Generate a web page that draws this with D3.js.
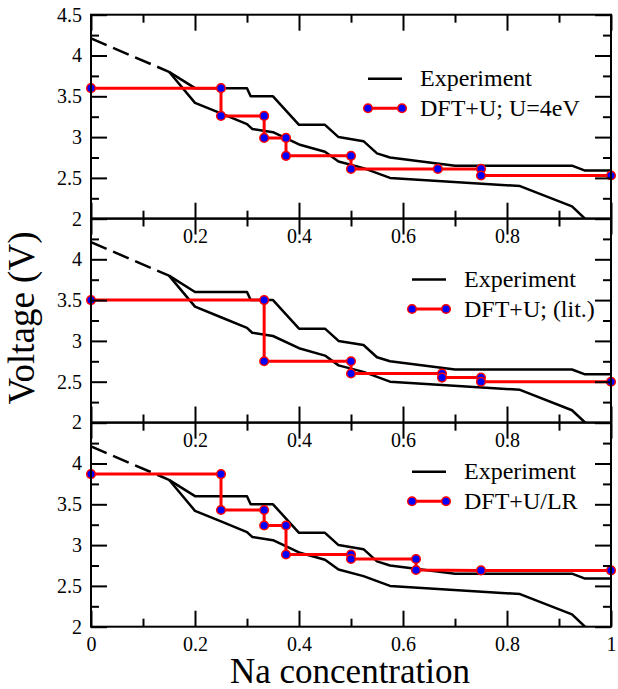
<!DOCTYPE html>
<html>
<head>
<meta charset="utf-8">
<script src="https://cdn.jsdelivr.net/npm/d3@7"></script>
</head>
<body style="margin:0">
<svg id="chart" width="618" height="689"></svg>
<script>
// experiment (same in all three panels)
const expDashX = [0, 0.15];
const expDashV = [4.21, 3.8];
const expUpperX = [0.15, 0.2, 0.3, 0.307, 0.35, 0.4, 0.45, 0.476, 0.524, 0.55, 0.575, 0.7, 0.925, 0.95, 1.0];
const expUpperV = [3.8, 3.6, 3.6, 3.5, 3.5, 3.15, 3.15, 3.0, 2.95, 2.8, 2.75, 2.65, 2.65, 2.59, 2.59];
const expLowerX = [0.15, 0.2, 0.25, 0.3, 0.31, 0.35, 0.4, 0.45, 0.476, 0.524, 0.575, 0.825, 0.925, 0.95, 0.97];
const expLowerV = [3.8, 3.42, 3.29, 3.16, 3.1, 3.06, 2.91, 2.82, 2.7, 2.62, 2.5, 2.4, 2.15, 2.0, 1.88];

// computed voltage steps
const u4X = [0, 0.25, 0.25, 0.333, 0.333, 0.375, 0.375, 0.5, 0.5, 0.667, 0.75, 0.75, 1.0];
const u4V = [3.6, 3.6, 3.26, 3.26, 2.99, 2.99, 2.77, 2.77, 2.61, 2.61, 2.61, 2.53, 2.53];
const litX = [0, 0.333, 0.333, 0.5, 0.5, 0.675, 0.675, 0.75, 0.75, 1.0];
const litV = [3.5, 3.5, 2.75, 2.75, 2.6, 2.6, 2.55, 2.55, 2.5, 2.5];
const lrX = [0, 0.25, 0.25, 0.333, 0.333, 0.375, 0.375, 0.5, 0.5, 0.625, 0.625, 0.75, 1.0];
const lrV = [3.87, 3.87, 3.43, 3.43, 3.24, 3.24, 2.885, 2.885, 2.83, 2.83, 2.695, 2.69, 2.69];

const seriesNames = ["DFT+U; U=4eV", "DFT+U; (lit.)", "DFT+U/LR"];
const expName = "Experiment";

const xMajorTicks = [0, 0.2, 0.4, 0.6, 0.8, 1];
const xMinorTicks = [0.1, 0.3, 0.5, 0.7, 0.9];
const yMajorTicks = [2, 2.5, 3, 3.5, 4, 4.5];
const yMinorTicks = [2.25, 2.75, 3.25, 3.75, 4.25];

const serif = "Liberation Serif";

const svg = d3.select("#chart");

const left = 91, right = 611;
const panelH = 204;
const panelTops = [14.7, 218.5, 422.7];

const x = d3.scaleLinear().domain([0, 1]).range([left, right]);

const panels = [
  {xs: u4X, vs: u4V, name: seriesNames[0], legX: 368, legY: 64, xLabels: false, topLabel: true},
  {xs: litX, vs: litV, name: seriesNames[1], legX: 412, legY: 61, xLabels: false, topLabel: false},
  {xs: lrX, vs: lrV, name: seriesNames[2], legX: 412, legY: 49, xLabels: true, topLabel: false}
];

const pts = (xs, vs) => xs.map((d, i) => [d, vs[i]]);

panels.forEach((p, k) => {
  const top = panelTops[k];
  const y = d3.scaleLinear().domain([2, 4.5]).range([top + panelH, top]);
  const g = svg.append("g");

  g.append("clipPath").attr("id", "clip" + k)
    .append("rect").attr("x", left).attr("y", top).attr("width", right - left).attr("height", panelH);

  const line = d3.line().x(d => x(d[0])).y(d => y(d[1]));
  const plot = g.append("g").attr("clip-path", "url(#clip" + k + ")");

  plot.append("path").attr("d", line(pts(expDashX, expDashV)))
    .attr("fill", "none").attr("stroke", "#000").attr("stroke-width", 2.5)
    .attr("stroke-dasharray", "17,7");
  [[expUpperX, expUpperV], [expLowerX, expLowerV]].forEach(([xs, vs]) => {
    plot.append("path").attr("d", line(pts(xs, vs)))
      .attr("fill", "none").attr("stroke", "#000").attr("stroke-width", 2.5)
      .attr("stroke-linejoin", "round");
  });

  const data = pts(p.xs, p.vs);
  g.append("path").attr("d", line(data))
    .attr("fill", "none").attr("stroke", "#ff0000").attr("stroke-width", 3);
  g.selectAll(".dot").data(data).join("circle")
    .attr("cx", d => x(d[0])).attr("cy", d => y(d[1])).attr("r", 4.3)
    .attr("fill", "#0000ff").attr("stroke", "#ff0000").attr("stroke-width", 1.5);

  // axes, ticks pointing inward
  const fmtX = d => (p.xLabels || (d > 0 && d < 1)) ? d3.format("")(d) : "";
  const fmtY = d => (p.topLabel || d < 4.5) ? d3.format("")(d) : "";

  const axes = [
    g.append("g").attr("transform", `translate(0,${top + panelH})`)
      .call(d3.axisBottom(x).tickValues(xMajorTicks).tickSize(-16).tickPadding(10).tickFormat(fmtX)),
    g.append("g").attr("transform", `translate(0,${top + panelH})`)
      .call(d3.axisBottom(x).tickValues(xMinorTicks).tickSize(-8).tickFormat("")),
    g.append("g").attr("transform", `translate(0,${top})`)
      .call(d3.axisTop(x).tickValues(xMajorTicks).tickSize(-16).tickFormat("")),
    g.append("g").attr("transform", `translate(0,${top})`)
      .call(d3.axisTop(x).tickValues(xMinorTicks).tickSize(-8).tickFormat("")),
    g.append("g").attr("transform", `translate(${left},0)`)
      .call(d3.axisLeft(y).tickValues(yMajorTicks).tickSize(-16).tickPadding(9).tickFormat(fmtY)),
    g.append("g").attr("transform", `translate(${left},0)`)
      .call(d3.axisLeft(y).tickValues(yMinorTicks).tickSize(-8).tickFormat("")),
    g.append("g").attr("transform", `translate(${right},0)`)
      .call(d3.axisRight(y).tickValues(yMajorTicks).tickSize(-16).tickFormat("")),
    g.append("g").attr("transform", `translate(${right},0)`)
      .call(d3.axisRight(y).tickValues(yMinorTicks).tickSize(-8).tickFormat(""))
  ];
  axes.forEach(a => {
    a.attr("font-family", serif).attr("font-size", 20);
    a.select(".domain").remove();
    a.selectAll("line").attr("stroke", "#000").attr("stroke-width", 2);
    a.selectAll("text").attr("fill", "#000");
  });

  g.append("rect").attr("x", left).attr("y", top).attr("width", right - left).attr("height", panelH)
    .attr("fill", "none").attr("stroke", "#000").attr("stroke-width", 2);

  // legend
  const ly1 = top + p.legY, ly2 = ly1 + 29.5;
  const lg = g.append("g").attr("font-family", serif).attr("font-size", 24);
  lg.append("line").attr("x1", p.legX).attr("x2", p.legX + 34).attr("y1", ly1).attr("y2", ly1)
    .attr("stroke", "#000").attr("stroke-width", 2.5);
  lg.append("text").attr("x", p.legX + 52).attr("y", ly1 + 7.5).text(expName);
  lg.append("line").attr("x1", p.legX).attr("x2", p.legX + 34).attr("y1", ly2).attr("y2", ly2)
    .attr("stroke", "#ff0000").attr("stroke-width", 3);
  [p.legX, p.legX + 34].forEach(cx => {
    lg.append("circle").attr("cx", cx).attr("cy", ly2).attr("r", 4.3)
      .attr("fill", "#0000ff").attr("stroke", "#ff0000").attr("stroke-width", 1.5);
  });
  lg.append("text").attr("x", p.legX + 52).attr("y", ly2 + 7.5).text(p.name);
});

svg.append("text")
  .attr("transform", "translate(34,318) rotate(-90)")
  .attr("text-anchor", "middle")
  .attr("font-family", serif).attr("font-size", 37)
  .text("Voltage (V)");

svg.append("text")
  .attr("x", 350).attr("y", 683)
  .attr("text-anchor", "middle")
  .attr("font-family", serif).attr("font-size", 35)
  .text("Na concentration");
</script>
</body>
</html>
